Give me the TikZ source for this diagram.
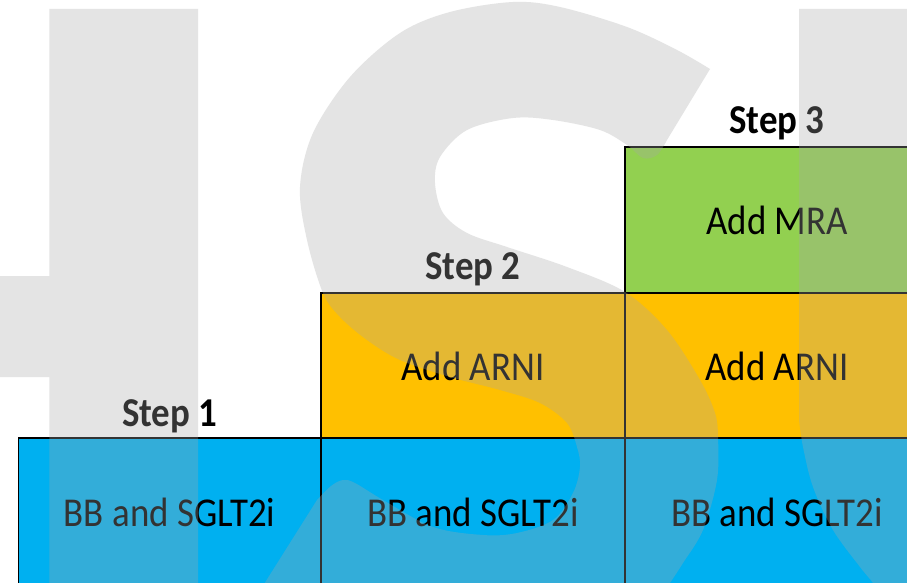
\documentclass[tikz,border=0pt]{standalone}
\usepackage{fontspec}
\usepackage{graphicx}
\setmainfont{Carlito}
\definecolor{cellblue}{HTML}{00B0F0}
\definecolor{cellorange}{HTML}{FFC000}
\definecolor{cellgreen}{HTML}{92D050}
\definecolor{veilgray}{RGB}{167,167,167}
\newcommand{\narrow}[1]{\scalebox{0.9}[1]{#1}}
\tikzset{
  cell/.style={draw=black, line width=1.6pt, rectangle, inner sep=0pt, minimum width=304pt},
  celltext/.style={anchor=base, inner sep=0pt, text=black, font=\fontsize{41}{49}\selectfont},
  steptext/.style={anchor=base, inner sep=0pt, text=black, font=\fontsize{41}{49}\selectfont\bfseries},
  letterveil/.style={fill=veilgray, fill opacity=0.306}
}
\begin{document}
\begin{tikzpicture}[x=1pt, y=-1pt]
\useasboundingbox (0,0) rectangle (907,583);
\clip (0,0) rectangle (907,583);
\fill[white] (0,0) rectangle (907,583);

% bottom row
\node[cell, fill=cellblue, minimum width=302.7pt, minimum height=170pt] (b1) at (169.65,523) {};
\node[cell, fill=cellblue, minimum height=170pt] (b2) at (473,523) {};
\node[cell, fill=cellblue, minimum height=170pt] (b3) at (777,523) {};
% middle row
\node[cell, fill=cellorange, minimum height=145pt] (o2) at (473,365.5) {};
\node[cell, fill=cellorange, minimum height=145pt] (o3) at (777,365.5) {};
% top row
\node[cell, fill=cellgreen, minimum height=146pt] (g3) at (777,220) {};

% cell labels
\node[celltext] (t1) at (169.65,526) {\narrow{BB and SGLT2i}};
\node[celltext] (t2) at (473,526) {\narrow{BB and SGLT2i}};
\node[celltext] (t3) at (777,526) {\narrow{BB and SGLT2i}};
\node[celltext] (a2) at (473,380) {\narrow{Add ARNI}};
\node[celltext] (a3) at (777,380) {\narrow{Add ARNI}};
\node[celltext] (m3) at (777,234) {\narrow{Add MRA}};

% step headings
\node[steptext] (s1) at (169.65,426) {\narrow{Step 1}};
\node[steptext] (s2) at (473,279) {\narrow{Step 2}};
\node[steptext] (s3) at (777,133) {\narrow{Step 3}};

% translucent letter shapes laid over everything
\fill[letterveil] (0,276) -- (49.3,276) -- (49.3,9) -- (198,9) -- (198,600)
  -- (49.3,600) -- (49.3,377) -- (0,377) -- cycle;
\fill[letterveil] plot[smooth, tension=0.55] coordinates {
  (710,69) (677,50) (627,27) (560,7) (513,2) (450,12) (400,33) (350,77)
  (313,133) (300,187) (307,240) (323,293) (340,317) (367,340) (400,360)
  (450,377) (500,390) (540,403) (567,423) (577,447) (580,467) (573,493)
  (553,520) (517,533) (483,535) (433,527) (383,500) (355,483) (343,480)
  (331,486) (317,500)}
  -- (254,600) -- (660,600)
  -- plot[smooth, tension=0.55] coordinates {
  (670,583) (683,563) (703,530) (717,480) (718,437) (715,413) (700,380)
  (667,330) (625,292) (567,267) (507,247) (467,233) (443,213) (435,183)
  (440,157) (467,130) (513,118) (553,120) (600,130) (627,145) (643,158)
  (657,155) (667,140)}
  -- cycle;
\fill[letterveil] (799,9) -- (920,9) -- (920,600) -- (883,600)
  -- plot[smooth, tension=0.55] coordinates {
  (883,600) (873,583) (860,567) (833,530) (813,487) (803,447) (799,420)}
  -- cycle;
\end{tikzpicture}
\end{document}
